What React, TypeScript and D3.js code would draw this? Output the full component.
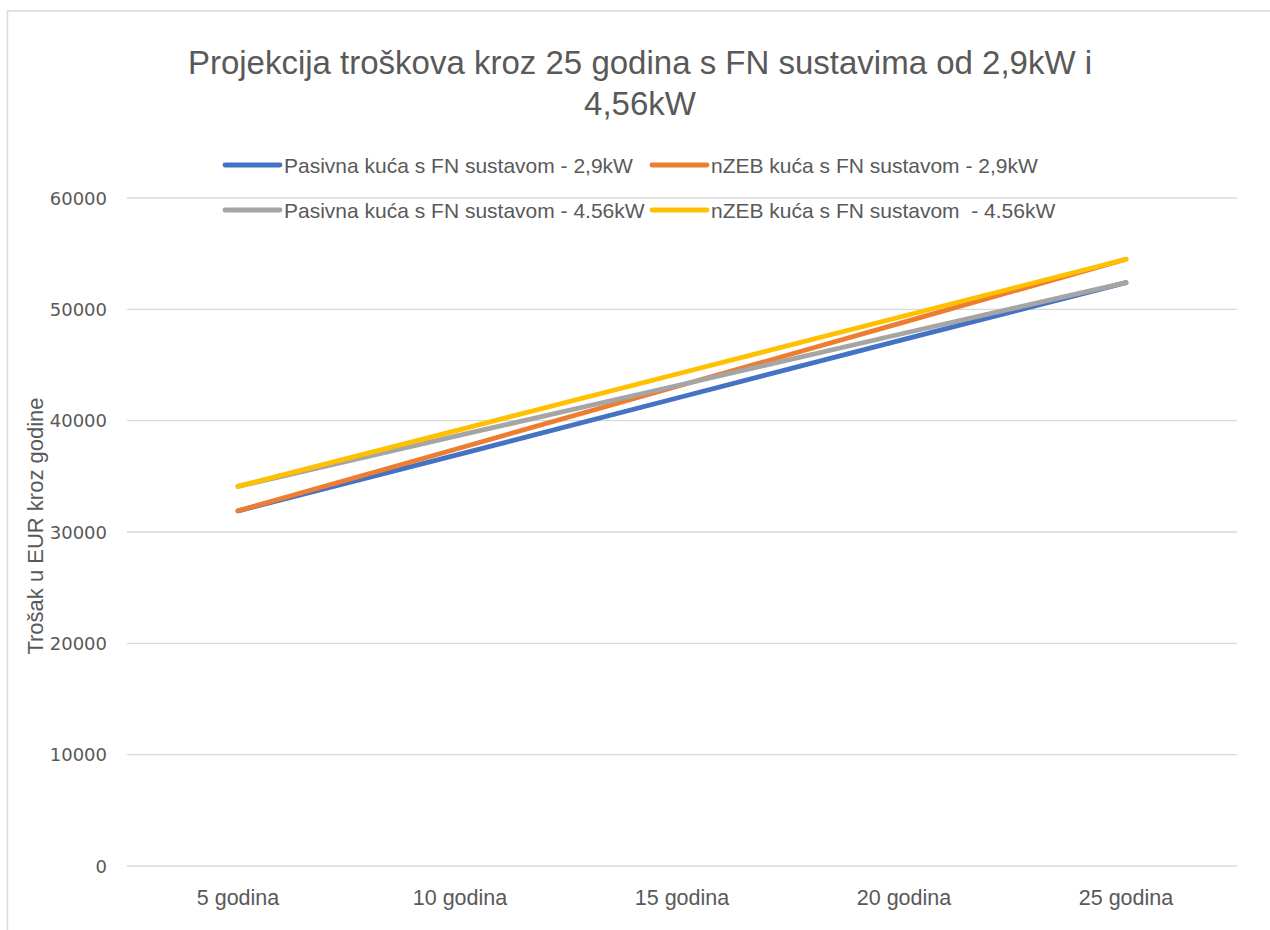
import React, { useEffect, useRef } from 'react';
import * as d3 from 'd3';

// categories on the x axis
const categories = ['5 godina', '10 godina', '15 godina', '20 godina', '25 godina'];

// values (EUR)
const pasivna29 = [31900, 37000, 42150, 47300, 52400];
const nzeb29 = [31900, 37550, 43200, 48850, 54500];
const pasivna456 = [34100, 38700, 43250, 47850, 52400];
const nzeb456 = [34100, 39200, 44300, 49400, 54500];

const seriesNames = [
  'Pasivna kuća s FN sustavom - 2,9kW',
  'nZEB kuća s FN sustavom - 2,9kW',
  'Pasivna kuća s FN sustavom - 4.56kW',
  'nZEB kuća s FN sustavom  - 4.56kW',
];
const seriesColors = ['#4472C4', '#ED7D31', '#A5A5A5', '#FFC000'];
const yTicks = [0, 10000, 20000, 30000, 40000, 50000, 60000];

const sans = "'Liberation Sans', Arial, sans-serif";

const App = () => {
  const svgRef = useRef<SVGSVGElement>(null);

  useEffect(() => {
    const svg = d3.select(svgRef.current);
    svg.selectAll('*').remove();

    const left = 127, right = 1237, top = 198, bottom = 866;
    const x = d3.scaleBand().domain(categories).range([left, right]);
    const y = d3.scaleLinear().domain([0, 60000]).range([bottom, top]);

    // chart frame (clipped by the window on right/bottom)
    svg.append('rect')
      .attr('x', 7.5).attr('y', 11)
      .attr('width', 1300).attr('height', 960)
      .attr('fill', '#fff')
      .attr('stroke', '#D9D9D9')
      .attr('stroke-width', 1.5);

    // gridlines
    svg.append('g')
      .selectAll('line')
      .data(yTicks)
      .enter()
      .append('line')
      .attr('x1', left).attr('x2', right)
      .attr('y1', d => y(d)).attr('y2', d => y(d))
      .attr('stroke', '#D9D9D9')
      .attr('stroke-width', 1.3);

    // y tick labels
    svg.append('g')
      .selectAll('text')
      .data(yTicks)
      .enter()
      .append('text')
      .attr('x', 107)
      .attr('y', d => y(d) + 6.5)
      .attr('text-anchor', 'end')
      .attr('font-family', "'DejaVu Sans', sans-serif")
      .attr('font-size', 18)
      .attr('fill', '#595959')
      .text(d => d);

    // x labels
    svg.append('g')
      .selectAll('text')
      .data(categories)
      .enter()
      .append('text')
      .attr('x', d => (x(d) as number) + x.bandwidth() / 2)
      .attr('y', 905)
      .attr('text-anchor', 'middle')
      .attr('font-family', sans)
      .attr('font-size', 21.5)
      .attr('fill', '#595959')
      .text(d => d);

    // y axis title
    svg.append('text')
      .attr('transform', 'translate(43,526) rotate(-90)')
      .attr('text-anchor', 'middle')
      .attr('font-family', sans)
      .attr('font-size', 22)
      .attr('fill', '#595959')
      .text('Trošak u EUR kroz godine');

    // title
    const title = svg.append('text')
      .attr('text-anchor', 'middle')
      .attr('font-family', sans)
      .attr('font-size', 33)
      .attr('fill', '#595959');
    title.append('tspan').attr('x', 640).attr('y', 74).text('Projekcija troškova kroz 25 godina s FN sustavima od 2,9kW i');
    title.append('tspan').attr('x', 640).attr('y', 115).text('4,56kW');

    // lines
    const allSeries = [pasivna29, nzeb29, pasivna456, nzeb456];
    const line = d3.line<number>()
      .x((d, i) => (x(categories[i]) as number) + x.bandwidth() / 2)
      .y(d => y(d));

    svg.append('g')
      .selectAll('path')
      .data(allSeries)
      .enter()
      .append('path')
      .attr('d', d => line(d))
      .attr('fill', 'none')
      .attr('stroke', (d, i) => seriesColors[i])
      .attr('stroke-width', 4.8)
      .attr('stroke-linecap', 'round')
      .attr('stroke-linejoin', 'round');

    // legend, 2 x 2
    const legend = svg.append('g')
      .selectAll('g')
      .data(seriesNames)
      .enter()
      .append('g')
      .attr('transform', (d, i) => `translate(${i % 2 === 0 ? 225 : 652},${i < 2 ? 165 : 210})`);

    legend.append('line')
      .attr('x1', 0).attr('x2', 55)
      .attr('y1', 0).attr('y2', 0)
      .attr('stroke', (d, i) => seriesColors[i])
      .attr('stroke-width', 4.8)
      .attr('stroke-linecap', 'round');

    legend.append('text')
      .attr('x', 59)
      .attr('y', 7.5)
      .attr('font-family', sans)
      .attr('font-size', 21)
      .attr('fill', '#595959')
      .attr('xml:space', 'preserve')
      .style('white-space', 'pre')
      .text(d => d);
  }, []);

  return (
    <div style={{ position: 'absolute', left: 0, top: 0 }}>
      <svg ref={svgRef} width={1270} height={930} style={{ display: 'block' }}></svg>
    </div>
  );
};

export default App;
